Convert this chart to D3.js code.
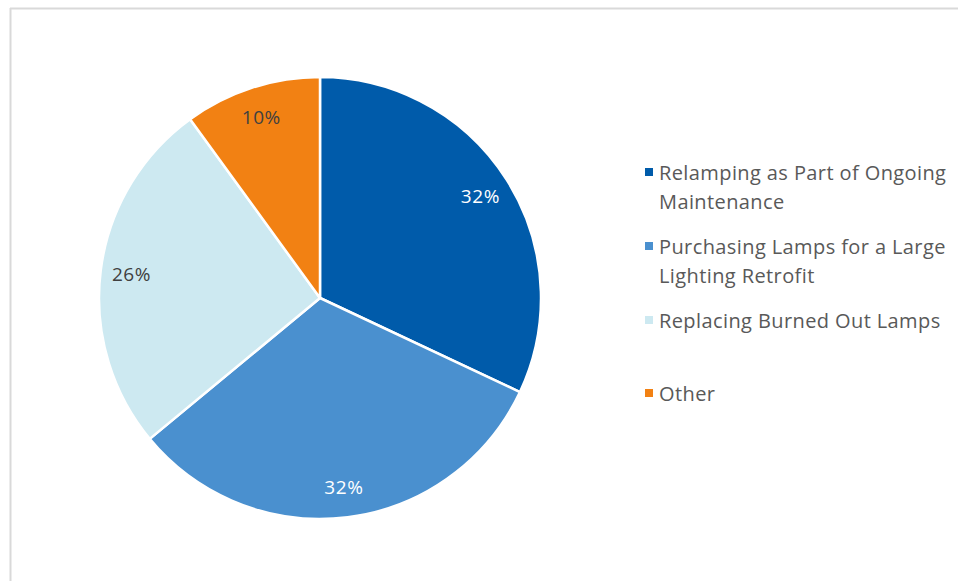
<!DOCTYPE html>
<html><head><meta charset="utf-8">
<script src="https://cdn.jsdelivr.net/npm/d3@7"></script>
<style>body{margin:0;background:#fff}svg{display:block}text{font-family:"Open Sans",Lato,sans-serif}</style>
</head><body><svg id="c" width="958" height="581"></svg>
<script>
const categories = ["Relamping as Part of Ongoing Maintenance","Purchasing Lamps for a Large Lighting Retrofit","Replacing Burned Out Lamps","Other"];
const legendLines = [["Relamping as Part of Ongoing","Maintenance"],["Purchasing Lamps for a Large","Lighting Retrofit"],["Replacing Burned Out Lamps"],["Other"]];
const values = [32, 32, 26, 10];
const colors = ["#005BAA","#4A90CF","#CDE9F1","#F28113"];
const labelColors = ["#ffffff","#ffffff","#404040","#404040"];

const svg = d3.select("#c");
// frame
svg.append("line").attr("x1",10.5).attr("x2",10.5).attr("y1",8).attr("y2",581).attr("stroke","#d9d9d9").attr("stroke-width",2);
svg.append("line").attr("x1",10).attr("x2",958).attr("y1",8.5).attr("y2",8.5).attr("stroke","#d9d9d9").attr("stroke-width",2);

const cx = 320, cy = 298, R = 221;
const pie = d3.pie().sort(null).value(d=>d);
const arcs = pie(values);
const arc = d3.arc().innerRadius(0).outerRadius(R);
const labelArc = d3.arc().innerRadius(190).outerRadius(190);
const g = svg.append("g").attr("transform",`translate(${cx},${cy})`);
g.selectAll("path").data(arcs).join("path")
  .attr("d",arc).attr("fill",(d,i)=>colors[i])
  .attr("stroke","#fff").attr("stroke-width",2.5).attr("stroke-linejoin","round");
g.selectAll("text").data(arcs).join("text")
  .attr("transform",d=>`translate(${labelArc.centroid(d)})`)
  .attr("text-anchor","middle").attr("dominant-baseline","central")
  .attr("font-size",19).attr("letter-spacing",0.6).attr("fill",(d,i)=>labelColors[i])
  .text(d=>d.value+"%");

// legend
const legendY = [172, 246, 320, 393];
const lg = svg.append("g");
legendLines.forEach((lines,i)=>{
  lg.append("rect").attr("x",645).attr("y",legendY[i]-4).attr("width",8).attr("height",8).attr("fill",colors[i]);
  lines.forEach((t,j)=>{
    lg.append("text").attr("x",659).attr("y",legendY[i]+j*29.5)
      .attr("dominant-baseline","central").attr("font-size",20).attr("letter-spacing",0.4).attr("fill","#595959").text(t);
  });
});
</script></body></html>
